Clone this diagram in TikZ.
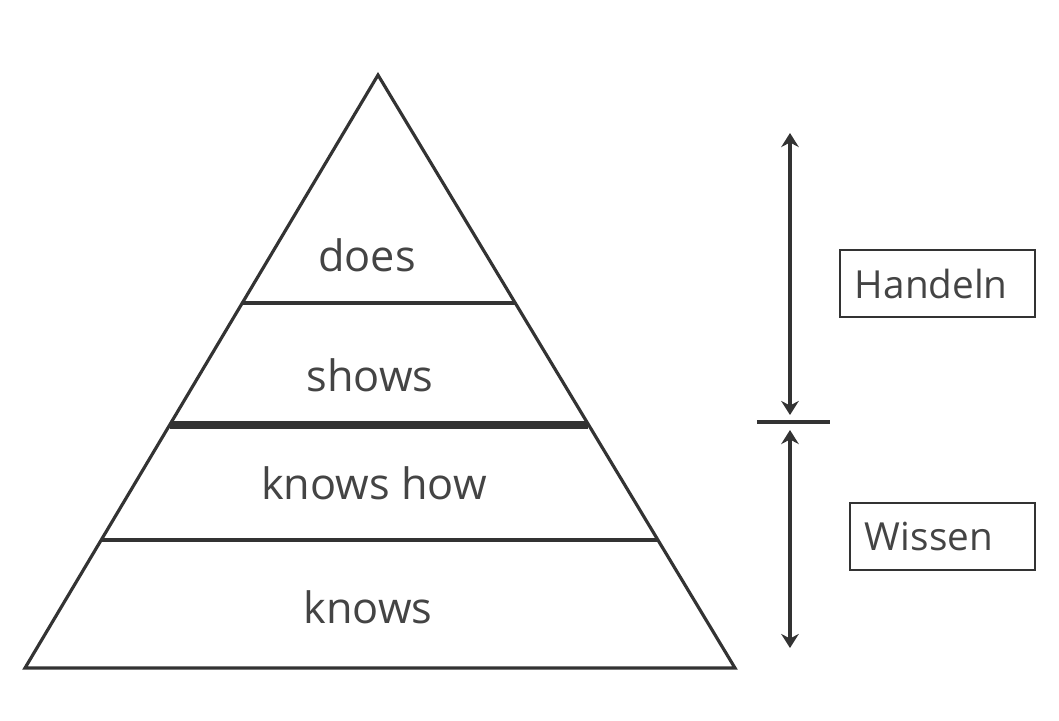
\documentclass[tikz,border=0pt]{standalone}
\usepackage{fontspec}
\setmainfont{Open Sans}
\usepackage{tikz}
\usetikzlibrary{arrows.meta}

\definecolor{linegray}{HTML}{333333}
\definecolor{textgray}{HTML}{444444}

\tikzset{
  level/.style={text=textgray, font=\fontsize{12.3}{15}\selectfont},
  tagbox/.style={draw=linegray, line width=0.8pt, text=textgray,
    font=\fontsize{11}{14}\selectfont, inner xsep=0.15cm, inner ysep=0pt,
    minimum height=0.67cm, align=left},
  span/.style={linegray, {Stealth[length=4pt, width=5pt]}-{Stealth[length=4pt, width=5pt]}},
}

\begin{document}
\begin{tikzpicture}[x=0.01cm, y=-0.01cm, line width=0.9pt, draw=linegray]
    \useasboundingbox (0, 0) rectangle (1059, 720);
    % pyramid
    \draw [linegray] (25, 668) -- (378, 75) -- (735, 668) -- cycle;
    \draw [linegray] (242, 303) -- (515, 303);
    \draw [linegray, line width=2pt] (170, 425) -- (588, 425);
    \draw [linegray] (101, 540) -- (658, 540);

    \node [level] (does) at (367, 255) {does};
    \node [level] (shows) at (370, 375) {shows};
    \node [level] (knowshow) at (374, 483) {knows how};
    \node [level] (knows) at (368, 607) {knows};

    % scale on the right
    \coordinate (hup) at (790, 133);
    \coordinate (hdown) at (790, 415);
    \coordinate (wup) at (790, 430);
    \coordinate (wdown) at (790, 648);
    \coordinate (tickl) at (757, 422);
    \coordinate (tickr) at (830, 422);
    \draw [span] (hup) -- (hdown);
    \draw [span] (wup) -- (wdown);
    \draw [linegray, line width=1.2pt] (tickl) -- (tickr);

    \node [tagbox, text width=1.65cm] (handeln) at (937.5, 283.5) {Handeln};
    \node [tagbox, text width=1.55cm] (wissen) at (942.5, 536.5) {Wissen};
  \end{tikzpicture}
\end{document}
